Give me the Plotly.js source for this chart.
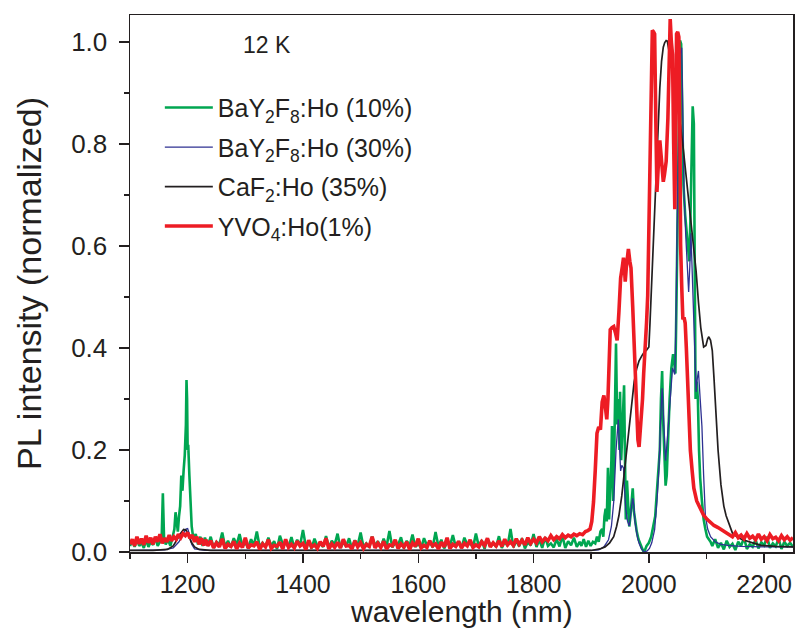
<!DOCTYPE html>
<html>
<head>
<meta charset="utf-8">
<script src="https://cdn.plot.ly/plotly-3.0.1.min.js"></script>
<style>html,body{margin:0;padding:0;background:#fff;}#chart{width:804px;height:634px;}</style>
</head>
<body>
<div id="chart"></div>
<script>
// ---------- BaY2F8:Ho (10%) ----------
var greenX_low = [1100,1104,1108,1112,1116,1120,1124,1128,1132,1136,1140,1144,1148,1152,1155,1157,1159,1162,1166,1170,1174,1177,1179,1181,1183,1185,1187,1189,1191,1193,1195,1197,1198,1199,1200,1201,1203,1205,1207,1210,1214,1218,1222,1226,1230];
var greenY_low = [.012,.022,.01,.026,.012,.018,.008,.024,.01,.02,.014,.028,.012,.02,.03,.115,.03,.015,.024,.012,.03,.045,.078,.06,.04,.07,.09,.15,.12,.16,.19,.25,.337,.3,.2,.21,.15,.085,.05,.025,.035,.015,.03,.012,.028];
var greenX_mid = [1235,1240,1245,1250,1255,1260,1265,1270,1275,1280,1285,1290,1295,1300,1305,1310,1315,1320,1325,1330,1335,1340,1345,1350,1355,1360,1365,1370,1375,1380,1385,1390,1395,1400,1405,1410,1415,1420,1425,1430,1435,1440,1445,1450,1455,1460,1465,1470,1475,1480,1485,1490,1495,1500,1505,1510,1515,1520,1525,1530,1535,1540,1545,1550,1555,1560,1565,1570,1575,1580,1585,1590,1595,1600,1605,1610,1615,1620,1625,1630,1635,1640,1645,1650,1655,1660,1665,1670,1675,1680,1685,1690,1695,1700,1705,1710,1715,1720,1725,1730,1735,1740,1745,1750,1755,1760,1765,1770,1775,1780,1785,1790,1795,1800,1805,1810,1815,1820,1825,1830,1835,1840,1845,1850,1855,1860,1865,1870,1875,1880];
var greenY_mid = [.012,.03,.008,.02,.015,.038,.01,.022,.009,.027,.014,.035,.011,.019,.007,.025,.013,.04,.01,.018,
.009,.028,.012,.021,.006,.032,.015,.017,.01,.029,.008,.024,.013,.043,.011,.02,.007,.026,.012,.016,
.01,.031,.009,.022,.014,.036,.008,.019,.011,.027,.006,.023,.013,.038,.01,.017,.009,.03,.012,.021,
.008,.026,.011,.041,.009,.018,.014,.029,.007,.022,.012,.034,.01,.016,.008,.027,.013,.02,.009,.039,
.011,.024,.007,.019,.012,.033,.01,.021,.008,.028,.014,.017,.009,.036,.011,.023,.006,.026,.013,.018,
.01,.031,.008,.02,.012,.045,.009,.022,.011,.027,.007,.019,.013,.035,.01,.024,.008,.029,.012,.017,
.009,.025,.011,.032,.008,.021,.013,.028,.01,.02];
var greenX_peak = [1883,1887,1891,1895,1899,1903,1907,1910,1913,1916,1919,1921,1923,1925,1927,1929,1931,1933,1935,1936,1938,1940,1942,1943,1945,1947,1949,1950,1952,1954,1956,1957,1959,1960,1962,1964,1966,1968,1970,1972,1974,1976,1979,1982,1985,1988,1991,1993,1996,2000,2004,2008,2011,2014,2017,2019,2021,2023,2025,2027,2029,2031,2033,2036,2039,2042,2044,2046,2048,2050,2052,2054,2056,2058,2060,2063,2066,2068,2070,2072,2074,2076,2078,2080,2081,2083,2085,2087,2089,2092,2095,2098,2101,2104,2107];
var greenY_peak = [.012,.025,.01,.022,.012,.02,.017,.03,.02,.04,.045,.03,.07,.085,.06,.165,.064,.12,.18,.247,.1,.2,.35,.409,.25,.3,.2,.314,.18,.25,.3,.327,.15,.064,.14,.08,.05,.07,.11,.125,.08,.06,.04,.025,.015,.008,.0,.003,.012,.018,.03,.05,.07,.12,.17,.2,.3,.355,.25,.18,.13,.15,.22,.3,.36,.388,.37,.35,.5,.7,.9,1.003,.996,.85,.72,.66,.625,.6,.57,.65,.75,.874,.84,.4,.3,.334,.3,.2,.145,.1,.064,.045,.03,.025,.02];
var greenX_high = [2110,2115,2120,2125,2130,2135,2140,2145,2150,2155,2160,2165,2170,2175,2180,2185,2190,2195,2200,2205,2210,2215,2220,2225,2230,2235,2240,2245,2250];
var greenY_high = [.012,.025,.008,.018,.005,.022,.01,.016,.004,.02,.012,.028,.006,.015,.01,.024,.007,.019,.013,.03,.008,.017,.011,.026,.006,.02,.012,.018,.01];

// ---------- BaY2F8:Ho (30%) ----------
var blueX = [1100,1130,1160,1175,1185,1192,1197,1200,1203,1207,1212,1230,1300,1400,1500,1600,1700,1800,1880,1900,1913,1922,1930,1935,1939,1943,1947,1949,1951,1953,1956,1958,1960,1963,1966,1969,1972,1974,1976,1980,1983,1987,1992,1997,2001,2005,2010,2014,2017.5,2020,2023,2026,2029,2032,2035,2038,2041,2045,2047,2049,2051,2054,2057,2059,2061,2064,2066,2069,2071,2073,2076,2078,2080,2082,2084,2086,2089,2092,2095,2098,2102,2107,2115,2125,2137,2160,2200,2250];
var blueY = [.003,.003,.004,.008,.02,.035,.045,.046,.035,.015,.006,.003,.003,.002,.002,.002,.002,.002,.003,.003,.004,.01,.024,.05,.098,.199,.26,.2,.159,.17,.165,.12,.084,.06,.051,.08,.105,.09,.058,.03,.017,.006,.0,.002,.007,.018,.044,.1,.165,.25,.321,.25,.179,.22,.267,.33,.361,.348,.45,.638,.8,.976,.989,.85,.706,.62,.57,.51,.56,.625,.52,.449,.37,.314,.34,.355,.3,.247,.15,.071,.045,.03,.02,.015,.013,.011,.01,.01];

// ---------- CaF2:Ho (35%) ----------
var blackX = [1100,1140,1165,1175,1182,1188,1193,1197,1201,1206,1212,1220,1240,1400,1600,1800,1900,1915,1924,1932,1939,1944,1948,1953,1957,1962,1966,1970,1974.5,1979,1983,1988,1992,1996,2000,2002,2004,2007,2010,2013,2016,2019,2022,2025,2027.5,2030,2032,2034,2036,2039,2042,2046,2051,2055,2060,2064,2069,2073,2078,2082,2086,2090,2095,2099,2102,2104,2107,2110,2113,2116,2120,2125,2130,2134,2140,2145,2155,2163,2180,2195,2220,2250];
var blackY = [.003,.003,.005,.012,.025,.037,.044,.043,.035,.02,.01,.005,.003,.003,.003,.003,.003,.006,.01,.018,.03,.05,.071,.11,.152,.2,.247,.29,.334,.36,.375,.385,.392,.396,.402,.45,.503,.59,.672,.76,.84,.91,.962,.99,.999,1.003,1.002,.99,.976,.955,.928,.9,.867,.835,.787,.745,.685,.645,.604,.55,.49,.44,.402,.405,.418,.422,.415,.395,.34,.267,.2,.132,.09,.071,.05,.037,.028,.024,.018,.013,.011,.01];

// ---------- YVO4:Ho (1%) ----------
var redX_low = [1100,1104,1108,1112,1116,1120,1124,1128,1132,1136,1140,1144,1148,1152,1156,1160,1164,1168,1172,1176,1180,1184,1188,1192,1196,1200,1204,1208,1212,1216,1220,1224,1228,1232];
var redY_low = [.015,.025,.012,.03,.016,.026,.014,.032,.018,.028,.015,.03,.02,.035,.017,.027,.02,.033,.022,.03,.025,.035,.028,.036,.032,.038,.027,.033,.02,.03,.015,.027,.013,.024];
var redX_mid = [1235,1240,1245,1250,1255,1260,1265,1270,1275,1280,1285,1290,1295,1300,1305,1310,1315,1320,1325,1330,1335,1340,1345,1350,1355,1360,1365,1370,1375,1380,1385,1390,1395,1400,1405,1410,1415,1420,1425,1430,1435,1440,1445,1450,1455,1460,1465,1470,1475,1480,1485,1490,1495,1500,1505,1510,1515,1520,1525,1530,1535,1540,1545,1550,1555,1560,1565,1570,1575,1580,1585,1590,1595,1600,1605,1610,1615,1620,1625,1630,1635,1640,1645,1650,1655,1660,1665,1670,1675,1680,1685,1690,1695,1700,1705,1710,1715,1720,1725,1730,1735,1740,1745,1750,1755,1760,1765,1770,1775,1780,1785,1790,1795,1800,1805,1810,1815,1820,1825,1830,1835,1840,1845,1850];
var redY_mid = [.012,.022,.008,.018,.01,.026,.007,.015,.011,.021,.006,.017,.009,.028,.008,.014,.012,.02,.005,.016,
.01,.024,.007,.013,.011,.019,.006,.025,.009,.015,.008,.021,.012,.017,.005,.023,.01,.014,.007,.02,
.011,.027,.006,.016,.009,.019,.008,.025,.012,.013,.006,.022,.01,.018,.007,.015,.011,.03,.008,.017,
.009,.021,.006,.014,.012,.024,.007,.016,.01,.02,.005,.018,.011,.026,.008,.013,.009,.022,.012,.016,
.006,.019,.01,.028,.007,.015,.011,.021,.008,.017,.012,.024,.009,.014,.01,.02,.013,.027,.01,.018,
.012,.022,.011,.025,.014,.02,.013,.026,.015,.023,.014,.028,.017,.025,.018,.03,.02,.027,.022,.032,
.024,.03,.026,.034];
var redX_peak = [1855,1860,1865,1870,1875,1880,1885,1890,1894,1898,1901,1904,1907,1910,1913,1916,1919,1922,1925,1927,1929,1931,1933,1936,1939,1942,1945,1948,1951,1954,1956,1958,1959,1961,1964.5,1967,1969,1972,1974.5,1977,1979,1981,1983,1986,1989,1991,1994,1996,1998,2000,2002,2004,2006,2008,2010,2012,2014,2016,2019,2021,2023,2025,2027,2030,2033,2035,2037,2039,2041,2043,2045,2047,2048,2050,2052,2054,2055,2057,2059,2061,2063,2065,2066,2069,2072,2075,2078,2083,2089,2095,2101,2107,2113,2120,2128,2136];
var redY_peak = [.028,.033,.03,.035,.032,.036,.034,.04,.042,.045,.06,.098,.16,.233,.245,.24,.294,.307,.28,.26,.3,.368,.436,.44,.442,.43,.415,.47,.537,.56,.577,.55,.53,.56,.594,.57,.557,.48,.402,.32,.247,.22,.206,.25,.3,.35,.402,.45,.503,.65,.84,.95,1.023,1.02,1.016,.85,.706,.75,.807,.78,.74,.726,.74,.766,.85,.98,1.045,1.0,.976,.8,.672,.85,1.016,1.02,1.01,.8,.604,.52,.456,.46,.449,.4,.368,.28,.199,.16,.125,.1,.084,.072,.064,.058,.052,.048,.042,.037];
var redX_high = [2140,2145,2150,2155,2160,2165,2170,2175,2180,2185,2190,2195,2200,2205,2210,2215,2220,2225,2230,2235,2240,2245,2250];
var redY_high = [.035,.03,.038,.028,.033,.026,.036,.027,.031,.024,.035,.025,.03,.022,.034,.026,.029,.022,.032,.024,.03,.023,.028];

var seriesNames = ['BaY<sub>2</sub>F<sub>8</sub>:Ho (10%)', 'BaY<sub>2</sub>F<sub>8</sub>:Ho (30%)', 'CaF<sub>2</sub>:Ho (35%)', 'YVO<sub>4</sub>:Ho(1%)'];
var xTickVals = [1200, 1400, 1600, 1800, 2000, 2200];
var yTickVals = [0.0, 0.2, 0.4, 0.6, 0.8, 1.0];
var xTitle = 'wavelength (nm)';
var yTitle = 'PL intensity (normalized)';
var tempLabel = '12 K';

var greenX = greenX_low.concat(greenX_mid, greenX_peak, greenX_high);
var greenY = greenY_low.concat(greenY_mid, greenY_peak, greenY_high);
var redX = redX_low.concat(redX_mid, redX_peak, redX_high);
var redY = redY_low.concat(redY_mid, redY_peak, redY_high);

var traces = [
  {x: greenX, y: greenY, name: seriesNames[0], legendgroup: 'g1', mode: 'lines', line: {color: '#00a651', width: 2.6}},
  {x: blueX, y: blueY, name: seriesNames[1], legendgroup: 'g2', mode: 'lines', line: {color: '#2e3192', width: 1.3}},
  {x: blackX, y: blackY, name: seriesNames[2], legendgroup: 'g3', mode: 'lines', line: {color: '#231f20', width: 1.7}},
  {x: redX, y: redY, name: seriesNames[3], legendgroup: 'g4', mode: 'lines', line: {color: '#ed1c24', width: 3.6}}
];

var fontFam = 'Liberation Sans, Arial, sans-serif';
var layout = {
  width: 804, height: 634,
  margin: {l: 130, r: 11, t: 15, b: 82},
  paper_bgcolor: '#ffffff', plot_bgcolor: '#ffffff',
  font: {family: fontFam, color: '#231f20'},
  showlegend: true,
  legend: {x: 0.045, y: 0.870, xanchor: 'left', yanchor: 'top', bgcolor: 'rgba(0,0,0,0)',
           font: {family: fontFam, size: 25, color: '#231f20'}, tracegroupgap: 4, itemwidth: 48},
  xaxis: {
    range: [1100, 2250], tickvals: xTickVals, ticks: 'outside', ticklen: 9, tickwidth: 1.5, tickcolor: '#231f20',
    showline: true, mirror: true, linewidth: 1.5, linecolor: '#231f20', showgrid: false, zeroline: false,
    minor: {dtick: 100, tick0: 1100, ticks: 'outside', ticklen: 5, tickwidth: 1.5, tickcolor: '#231f20'},
    tickfont: {family: fontFam, size: 25, color: '#231f20'}
  },
  yaxis: {
    range: [0, 1.053], tickvals: yTickVals, tickformat: '.1f', ticks: 'outside', ticklen: 10, tickwidth: 1.5, tickcolor: '#231f20',
    showline: true, mirror: true, linewidth: 1.5, linecolor: '#231f20', showgrid: false, zeroline: false,
    ticklabelstandoff: 6,
    minor: {dtick: 0.1, tick0: 0, ticks: 'outside', ticklen: 5, tickwidth: 1.5, tickcolor: '#231f20'},
    tickfont: {family: fontFam, size: 26, color: '#231f20'},
    title: {text: yTitle, font: {family: fontFam, size: 34, color: '#231f20'}, standoff: 19}
  },
  annotations: [
    {text: tempLabel, xref: 'paper', yref: 'paper', x: 0.168, y: 0.944, xanchor: 'left', yanchor: 'middle', showarrow: false,
     font: {family: fontFam, size: 23, color: '#231f20'}},
    {text: xTitle, xref: 'paper', yref: 'paper', x: 0.5, y: -0.1106, xanchor: 'center', yanchor: 'middle', showarrow: false,
     font: {family: fontFam, size: 30, color: '#231f20'}}
  ]
};

Plotly.newPlot('chart', traces, layout, {displayModeBar: false, staticPlot: true});
</script>
</body>
</html>
